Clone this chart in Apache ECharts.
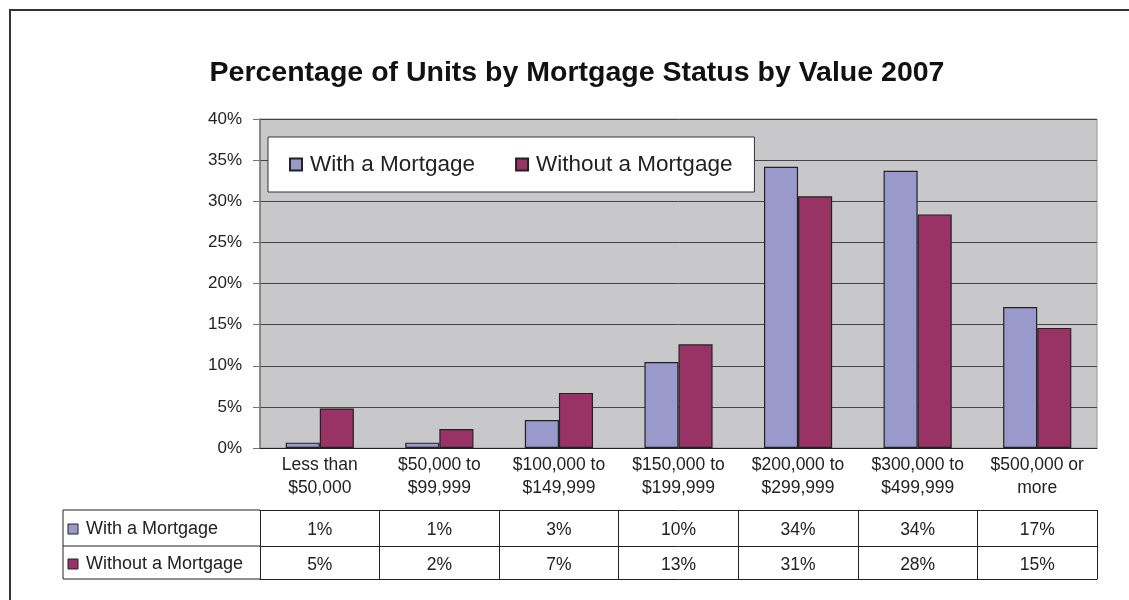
<!DOCTYPE html>
<html>
<head>
<meta charset="utf-8">
<script src="https://cdn.jsdelivr.net/npm/echarts@6/dist/echarts.min.js"></script>
<style>
  html, body { margin: 0; padding: 0; background: #fff; }
  #myCharts { width: 1129px; height: 600px; }
</style>
</head>
<body>
<div id="myCharts"></div>
<script>
// data
const categories = [
  "Less than\n$50,000",
  "$50,000 to\n$99,999",
  "$100,000 to\n$149,999",
  "$150,000 to\n$199,999",
  "$200,000 to\n$299,999",
  "$300,000 to\n$499,999",
  "$500,000 or\nmore",
];
const withMortgage = [0.65, 0.65, 3.4, 10.45, 34.2, 33.7, 17.15];
const withoutMortgage = [4.8, 2.3, 6.7, 12.6, 30.6, 28.4, 14.6];
const seriesNames = ["With a Mortgage", "Without a Mortgage"];
const seriesColors = ["#9999cc", "#993366"];

const FONT = "Liberation Sans, Arial, sans-serif";
const myCharts = echarts.init(document.getElementById("myCharts"));

// one extra x axis per table row, pushed down with offset
function rowAxis(values, offset, tickLen, margin) {
  return {
    type: "category",
    gridIndex: 0,
    position: "bottom",
    offset: offset,
    data: categories,
    axisLine: { lineStyle: { color: "#222", width: 1 } },
    axisTick: { show: tickLen > 0, length: tickLen, interval: 0, lineStyle: { color: "#222" } },
    axisLabel: {
      show: values != null,
      interval: 0,
      margin: margin,
      fontSize: 17.5,
      fontFamily: FONT,
      color: "#222",
      formatter: function (v, i) {
        return Math.round(values[i]) + "%";
      },
    },
  };
}

function rowHeader(name, color, y) {
  return [
    {
      type: "rect",
      shape: { x: 68, y: y - 5, width: 10, height: 10 },
      style: { fill: color, stroke: "#222", lineWidth: 1 },
    },
    {
      type: "text",
      x: 86,
      y: y,
      style: { text: name, fontSize: 18, fontFamily: FONT, fill: "#222", verticalAlign: "middle" },
    },
  ];
}

let option = {
  animation: false,
  title: {
    text: "Percentage of Units by Mortgage Status by Value 2007",
    left: 577,
    top: 59,
    padding: 0,
    textAlign: "center",
    textStyle: { fontSize: 28.5, fontWeight: "bold", fontFamily: FONT, color: "#111" },
  },
  legend: {
    data: seriesNames,
    left: 268,
    top: 137,
    padding: [16, 22, 16, 21],
    itemGap: 40,
    itemWidth: 12,
    itemHeight: 12,
    icon: "rect",
    backgroundColor: "#fff",
    borderColor: "#333",
    borderWidth: 1,
    borderRadius: 0,
    textStyle: { fontSize: 22.5, fontFamily: FONT, color: "#222", padding: [0, 0, 0, 3] },
  },
  grid: {
    left: 260,
    right: 32,
    top: 119,
    bottom: 152,
    show: true,
    backgroundColor: "#c8c8ca",
    borderColor: "#999",
    borderWidth: 1,
  },
  xAxis: [
    {
      type: "category",
      data: categories,
      axisLine: { lineStyle: { color: "#222", width: 1 } },
      axisTick: { length: 62, interval: 0, lineStyle: { color: "#222" } },
      axisLabel: {
        interval: 0,
        margin: 6,
        fontSize: 17.5,
        lineHeight: 23,
        fontFamily: FONT,
        color: "#222",
      },
    },
    rowAxis(withMortgage, 62, 36, 11),
    rowAxis(withoutMortgage, 98, 33, 10),
    rowAxis(null, 131, 0, 0),
  ],
  yAxis: {
    type: "value",
    min: 0,
    max: 40,
    interval: 5,
    axisLine: { show: true, lineStyle: { color: "#777", width: 1.5 } },
    axisTick: { show: true, length: 7, lineStyle: { color: "#777" } },
    axisLabel: {
      margin: 18,
      fontSize: 17,
      fontFamily: FONT,
      color: "#222",
      formatter: "{value}%",
    },
    splitLine: { lineStyle: { color: "#444", width: 1 } },
  },
  series: [
    {
      name: seriesNames[0],
      type: "bar",
      data: withMortgage,
      barGap: "0%",
      barCategoryGap: "43%",
      itemStyle: { color: seriesColors[0], borderColor: "#222", borderWidth: 1.2 },
    },
    {
      name: seriesNames[1],
      type: "bar",
      data: withoutMortgage,
      barGap: "0%",
      barCategoryGap: "43%",
      itemStyle: { color: seriesColors[1], borderColor: "#222", borderWidth: 1.2 },
    },
  ],
  graphic: [
    {
      type: "rect",
      shape: { x: 10, y: 10, width: 1300, height: 800 },
      style: { fill: "none", stroke: "#333", lineWidth: 2 },
      silent: true,
    },
    // left part of the data table frame
    { type: "line", shape: { x1: 63, y1: 510, x2: 260, y2: 510 }, style: { stroke: "#222", lineWidth: 1 } },
    { type: "line", shape: { x1: 63, y1: 546, x2: 260, y2: 546 }, style: { stroke: "#222", lineWidth: 1 } },
    { type: "line", shape: { x1: 63, y1: 579, x2: 260, y2: 579 }, style: { stroke: "#222", lineWidth: 1 } },
    { type: "line", shape: { x1: 63, y1: 510, x2: 63, y2: 579 }, style: { stroke: "#222", lineWidth: 1 } },
  ]
    .concat(rowHeader(seriesNames[0], seriesColors[0], 529))
    .concat(rowHeader(seriesNames[1], seriesColors[1], 564)),
};

myCharts.setOption(option);
</script>
</body>
</html>
